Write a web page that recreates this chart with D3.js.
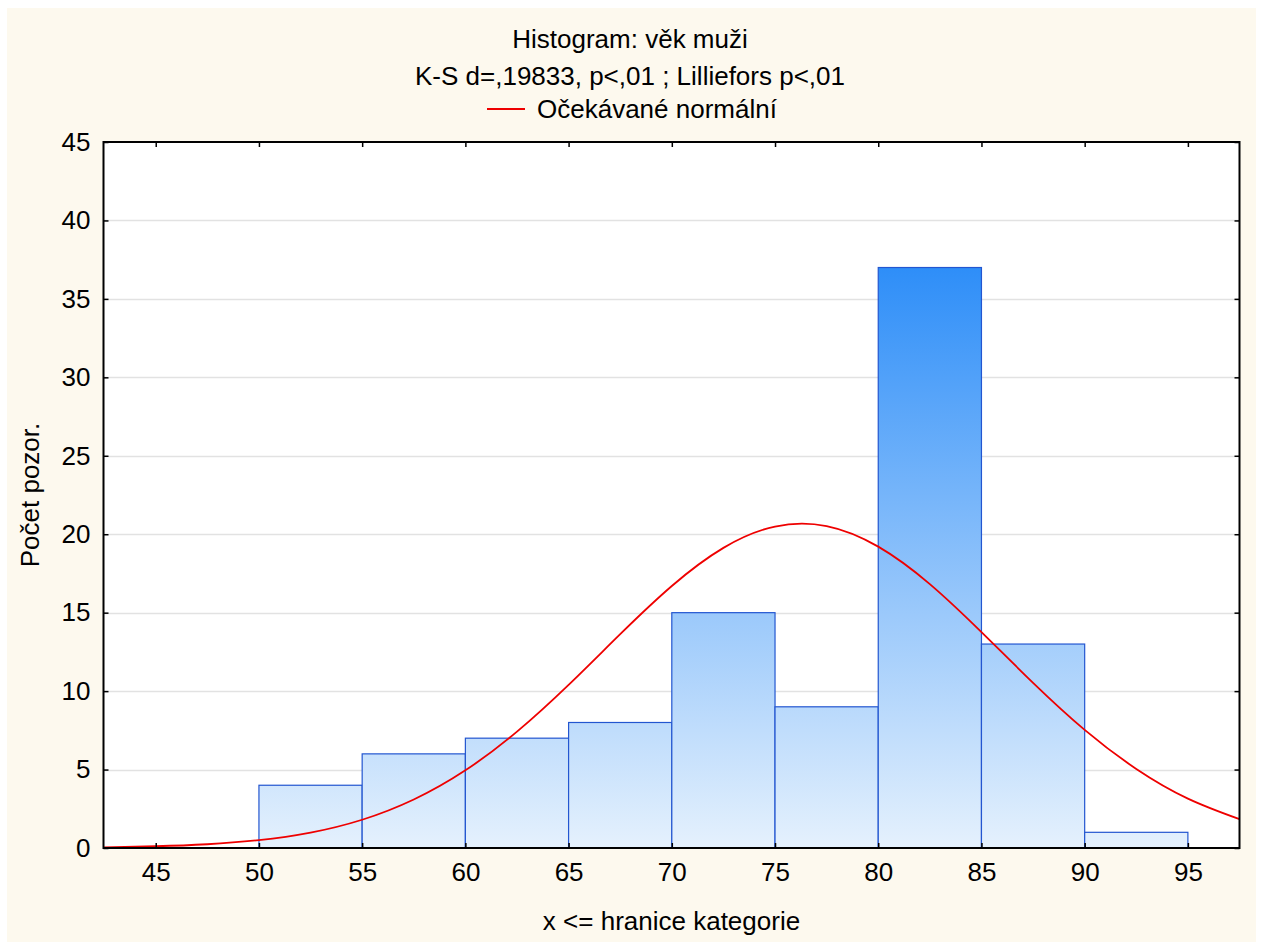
<!DOCTYPE html>
<html>
<head>
<meta charset="utf-8">
<script src="https://cdn.jsdelivr.net/npm/d3@7"></script>
<style>
  html, body { margin: 0; padding: 0; background: #ffffff; }
  svg { display: block; }
  text { font-family: "Liberation Sans", Arial, sans-serif; fill: #000; }
</style>
</head>
<body>
<svg id="chart" width="1265" height="942"></svg>
<script>
// Histogram bins (upper bounds of each class, width 5) and counts
const binStarts = [50, 55, 60, 65, 70, 75, 80, 85, 90];
const binWidth = 5;
const counts = [4, 6, 7, 8, 15, 9, 37, 13, 1];

// Expected normal curve, sampled along the x axis
const curveX = [42.5, 45, 47.5, 50, 52.5, 55, 57.5, 60, 62.5, 65, 67.5, 70, 72.5, 75, 77.5, 80, 82.5, 85, 87.5, 90, 92.5, 95, 97.5];
const curveY = [0.04, 0.11, 0.24, 0.50, 0.98, 1.80, 3.09, 4.95, 7.42, 10.40, 13.63, 16.70, 19.13, 20.49, 20.52, 19.21, 16.82, 13.76, 10.53, 7.53, 5.04, 3.15, 1.84];

const xTicks = [45, 50, 55, 60, 65, 70, 75, 80, 85, 90, 95];
const yTicks = [0, 5, 10, 15, 20, 25, 30, 35, 40, 45];

const titleLines = ["Histogram: věk muži", "K-S d=,19833, p<,01 ; Lilliefors p<,01"];
const legendLabel = "Očekávané normální";
const xLabel = "x <= hranice kategorie";
const yLabel = "Počet pozor.";

const svg = d3.select("#chart");
const W = 1265, H = 942;
const plot = { left: 103.5, right: 1239.5, top: 142, bottom: 848 };
const fontSize = "26px";

// Cream page background
svg.append("rect").attr("x", 7).attr("y", 8).attr("width", 1249).attr("height", H - 8)
  .attr("fill", "#fdf9ee");

const x = d3.scaleLinear().domain([42.47, 97.5]).range([plot.left, plot.right]);
const y = d3.scaleLinear().domain([0, 45]).range([plot.bottom, plot.top]);

// Plot area
svg.append("rect").attr("x", plot.left).attr("y", plot.top)
  .attr("width", plot.right - plot.left).attr("height", plot.bottom - plot.top)
  .attr("fill", "#ffffff");

// Horizontal gridlines
svg.append("g").selectAll("line").data(yTicks.filter(d => d > 0 && d < 45)).join("line")
  .attr("x1", plot.left).attr("x2", plot.right)
  .attr("y1", d => Math.round(y(d)) + 0.5).attr("y2", d => Math.round(y(d)) + 0.5)
  .attr("stroke", "#e2e2e2").attr("stroke-width", 1.5);

// Vertical gradient shared by all bars (light at 0, saturated at the tallest bar)
const defs = svg.append("defs");
const grad = defs.append("linearGradient").attr("id", "barFill")
  .attr("gradientUnits", "userSpaceOnUse")
  .attr("x1", 0).attr("x2", 0)
  .attr("y1", y(0)).attr("y2", y(d3.max(counts)));
grad.append("stop").attr("offset", 0).attr("stop-color", "#e5f1fd");
grad.append("stop").attr("offset", 1).attr("stop-color", "#2e8ef8");

const bins = binStarts.map((s, i) => ({ x0: s, x1: s + binWidth, n: counts[i] }));
svg.append("g").selectAll("rect").data(bins).join("rect")
  .attr("x", d => x(d.x0))
  .attr("y", d => y(d.n))
  .attr("width", d => x(d.x1) - x(d.x0))
  .attr("height", d => y(0) - y(d.n))
  .attr("fill", "url(#barFill)")
  .attr("stroke", "#2356d0")
  .attr("stroke-width", 1.2);

// Expected normal curve
const pts = curveX.map((v, i) => [v, curveY[i]]);
defs.append("clipPath").attr("id", "plotClip")
  .append("rect").attr("x", plot.left).attr("y", plot.top)
  .attr("width", plot.right - plot.left).attr("height", plot.bottom - plot.top);
svg.append("path").datum(pts)
  .attr("clip-path", "url(#plotClip)")
  .attr("fill", "none").attr("stroke", "#ee0000").attr("stroke-width", 1.8)
  .attr("d", d3.line().x(d => x(d[0])).y(d => y(d[1])).curve(d3.curveNatural));

// Axes: bottom/left with labels, top/right mirrored; ticks point inward
const tickLen = 5;
const axB = svg.append("g").attr("transform", `translate(0,${plot.bottom})`)
  .call(d3.axisBottom(x).tickValues(xTicks).tickSizeInner(-tickLen).tickSizeOuter(0).tickPadding(15));
const axT = svg.append("g").attr("transform", `translate(0,${plot.top})`)
  .call(d3.axisTop(x).tickValues(xTicks).tickSizeInner(-tickLen).tickSizeOuter(0).tickFormat(""));
const axL = svg.append("g").attr("transform", `translate(${plot.left},0)`)
  .call(d3.axisLeft(y).tickValues(yTicks).tickSizeInner(-tickLen).tickSizeOuter(0).tickPadding(13));
const axR = svg.append("g").attr("transform", `translate(${plot.right},0)`)
  .call(d3.axisRight(y).tickValues(yTicks).tickSizeInner(-tickLen).tickSizeOuter(0).tickFormat(""));

[axB, axT, axL, axR].forEach(g => {
  g.select(".domain").remove();
  g.selectAll(".tick line").attr("stroke", "#000").attr("stroke-width", 1.5);
  g.selectAll(".tick text").style("font-family", '"Liberation Sans", Arial, sans-serif')
    .style("font-size", fontSize).attr("fill", "#000");
});

// Frame
svg.append("rect").attr("x", plot.left).attr("y", plot.top)
  .attr("width", plot.right - plot.left).attr("height", plot.bottom - plot.top)
  .attr("fill", "none").attr("stroke", "#000").attr("stroke-width", 2);

// Titles
const cx = 630;
svg.append("text").attr("x", cx).attr("y", 48).attr("text-anchor", "middle")
  .style("font-size", fontSize).text(titleLines[0]);
svg.append("text").attr("x", cx).attr("y", 85).attr("text-anchor", "middle")
  .style("font-size", fontSize).text(titleLines[1]);

// Legend
svg.append("line").attr("x1", 487).attr("x2", 525).attr("y1", 109).attr("y2", 109)
  .attr("stroke", "#ee0000").attr("stroke-width", 1.8);
svg.append("text").attr("x", 537).attr("y", 118).style("font-size", fontSize).text(legendLabel);

// Axis titles
svg.append("text").attr("x", (plot.left + plot.right) / 2).attr("y", 930)
  .attr("text-anchor", "middle").style("font-size", fontSize).text(xLabel);
svg.append("text").attr("transform", `translate(39,${(plot.top + plot.bottom) / 2}) rotate(-90)`)
  .attr("text-anchor", "middle").style("font-size", fontSize).text(yLabel);
</script>
</body>
</html>
